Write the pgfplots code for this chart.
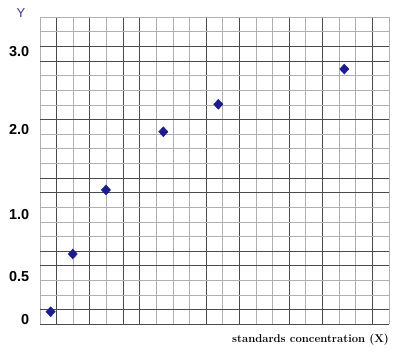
\documentclass[border=0pt]{standalone}
\usepackage{pgfplots}
\pgfplotsset{compat=1.18}
\usepackage{fontspec}
\newfontfamily\arial{Liberation Sans}
\definecolor{ptblue}{HTML}{1C1C8C}
\definecolor{ylab}{HTML}{3A3A9A}
\definecolor{gdark}{HTML}{4A4A4A}
\definecolor{glight}{HTML}{B0B0B0}
\begin{document}
\begin{tikzpicture}
\begin{axis}[
  name=ax,
  scale only axis,
  width=349bp, height=307bp,
  xmin=0, xmax=21, ymin=0, ymax=21,
  axis line style={draw=none},
  xtick={1,3,5,6,10,12,15,17,20},
  minor xtick={0,2,4,7,8,9,11,13,14,16,18,19,21},
  ytick={0,1,4,5,9,10,14,18,19},
  minor ytick={2,3,6,7,8,11,12,13,15,16,17,20,21},
  xticklabels={}, yticklabels={},
  grid=both,
  major grid style={gdark, line width=0.9bp},
  minor grid style={glight, line width=0.9bp},
  major tick length=0pt, minor tick length=0pt,
  extra y ticks={0.36,3.26,7.48,13.29,18.65},
  extra y tick labels={0,0.5,1.0,2.0,3.0},
  extra y tick style={grid=none, major tick length=0pt,
    yticklabel style={font=\arial\bfseries\fontsize{14.5}{16}\selectfont, inner sep=0pt, anchor=east, xshift=-10.7bp}},
  /pgf/number format/assume math mode=true,
  xlabel={standards concentration (X)},
  xlabel style={at={(rel axis cs:1,0)}, anchor=east, yshift=-15.7bp, inner sep=0pt,
    font=\fontsize{11.3}{13}\selectfont\bfseries},
  ylabel={Y},
  ylabel style={rotate=-90, at={(rel axis cs:0,1)}, anchor=center, xshift=-19bp, yshift=4.6bp,
    inner sep=0pt, text=ylab, font=\arial\fontsize{13}{15}\selectfont},
  clip=false,
]
\addplot[only marks, mark=diamond*, mark size=5bp, color=ptblue,
  mark options={xscale=1.24, fill=ptblue, draw=ptblue}]
  coordinates {(0.64,0.86) (1.97,4.81) (3.97,9.19) (7.42,13.17) (10.73,15.05) (18.31,17.46)};
\end{axis}
\path ([xshift=-40bp,yshift=-30.7bp]ax.south west) rectangle ([xshift=8bp,yshift=17.3bp]ax.north east);
\end{tikzpicture}
\end{document}
